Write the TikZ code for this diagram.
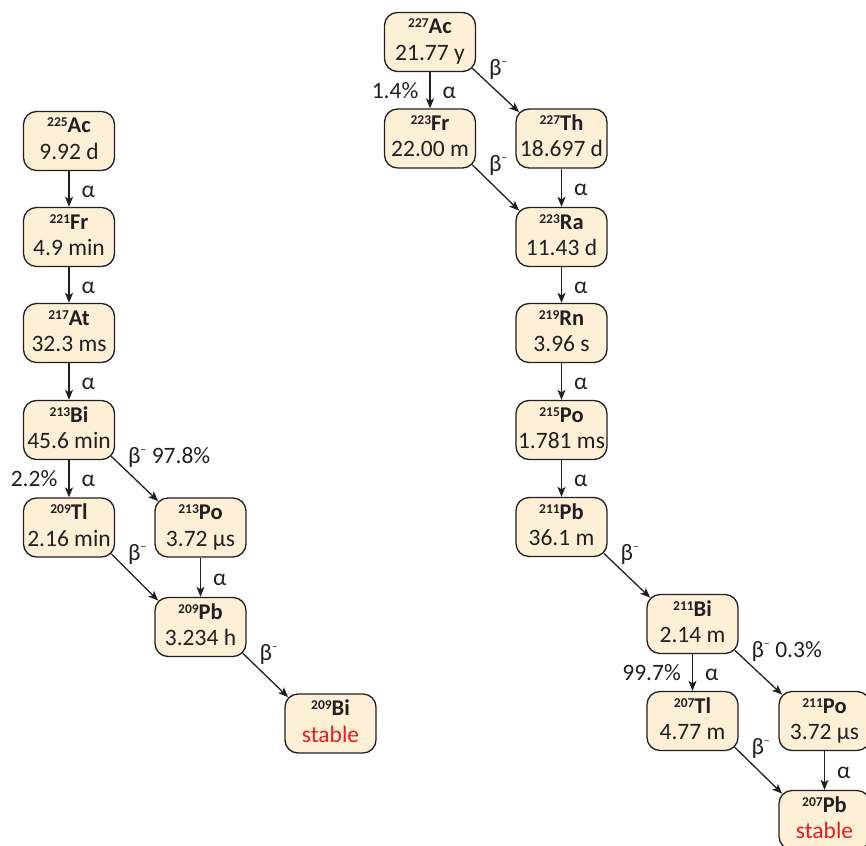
\documentclass[tikz,border=0pt]{standalone}
\usepackage{fontspec}
\setmainfont{Carlito}
\usetikzlibrary{arrows.meta,calc}

\definecolor{ink}{RGB}{35,31,32}
\definecolor{cream}{RGB}{253,240,214}
\definecolor{stablered}{RGB}{227,30,36}

% nuclide box text: mass number, symbol, half-life
\newcommand\iso[3]{%
  \rule{0pt}{17pt}{\fontsize{22.5}{26.5}\selectfont\bfseries
  \raisebox{6pt}{\fontsize{13.5}{13.5}\selectfont #1}#2}\\
  #3\rule[-6.5pt]{0pt}{6.5pt}}
% beta-minus symbol
\newcommand\betam{β\raisebox{10pt}{\fontsize{12}{12}\selectfont –}}

\tikzset{
  nuc/.style={draw=ink, line width=1.3pt, fill=cream, rounded corners=13pt,
    minimum width=91pt, minimum height=59pt, inner sep=0pt, align=center,
    text=ink, font=\fontsize{23.5}{26.5}\selectfont},
  decay/.style={draw=ink, line width=1.3pt,
    -{Stealth[length=10pt,width=8pt,inset=2.5pt]}},
  lab/.style={text=ink, inner sep=0pt, font=\fontsize{23.5}{26.5}\selectfont},
  alab/.style={lab, midway, anchor=base west, xshift=12pt, yshift=-8pt},
  plab/.style={lab, midway, anchor=base east, xshift=-11pt, yshift=-8pt},
  blab/.style={lab, pos=0, anchor=base west, xshift=16pt, yshift=-7pt},
}

\begin{document}
\begin{tikzpicture}[x=1pt,y=-1pt]
\path[use as bounding box, clip] (0,0) rectangle (866,845);

% Ac-225 chain
\node[nuc] (Ac225) at (69,141)      {\iso{225}{Ac}{9.92 d}};
\node[nuc] (Fr221) at (69,237)      {\iso{221}{Fr}{4.9 min}};
\node[nuc] (At217) at (69,333)      {\iso{217}{At}{32.3 ms}};
\node[nuc] (Bi213) at (69,430)      {\iso{213}{Bi}{45.6 min}};
\node[nuc] (Tl209) at (69,527.5)    {\iso{209}{Tl}{2.16 min}};
\node[nuc] (Po213) at (200.5,527.5) {\iso{213}{Po}{3.72 µs}};
\node[nuc] (Pb209) at (200.5,627)   {\iso{209}{Pb}{3.234 h}};
\node[nuc] (Bi209) at (330.5,723.5) {\iso{209}{Bi}{\textcolor{stablered}{stable}}};

% Ac-227 chain
\node[nuc] (Ac227) at (430,42)      {\iso{227}{Ac}{21.77 y}};
\node[nuc] (Fr223) at (430,138.5)   {\iso{223}{Fr}{22.00 m}};
\node[nuc] (Th227) at (561.5,138.5) {\iso{227}{Th}{18.697 d}};
\node[nuc] (Ra223) at (561.5,237)   {\iso{223}{Ra}{11.43 d}};
\node[nuc] (Rn219) at (561.5,333)   {\iso{219}{Rn}{3.96 s}};
\node[nuc] (Po215) at (561.5,430)   {\iso{215}{Po}{1.781 ms}};
\node[nuc] (Pb211) at (561.5,527)   {\iso{211}{Pb}{36.1 m}};
\node[nuc] (Bi211) at (692.5,624)   {\iso{211}{Bi}{2.14 m}};
\node[nuc] (Tl207) at (692.5,721)   {\iso{207}{Tl}{4.77 m}};
\node[nuc] (Po211) at (824.5,721)   {\iso{211}{Po}{3.72 µs}};
\node[nuc] (Pb207) at (824.5,820)   {\iso{207}{Pb}{\textcolor{stablered}{stable}}};

% decays, Ac-225 chain
\draw[decay] (Ac225) -- (Fr221) node[alab] {α};
\draw[decay] (Fr221) -- (At217) node[alab] {α};
\draw[decay] (At217) -- (Bi213) node[alab] {α};
\draw[decay] (Bi213) -- (Tl209) node[alab] {α} node[plab] {2.2\%};
\draw[decay] ($(Bi213.south east)+(-3.8,-3.8)$) -- ($(Po213.north west)+(3.8,3.8)$)
  node[blab] {\betam\ 97.8\%};
\draw[decay] ($(Tl209.south east)+(-3.8,-3.8)$) -- ($(Pb209.north west)+(3.8,3.8)$)
  node[blab] {\betam};
\draw[decay] (Po213) -- (Pb209) node[alab] {α};
\draw[decay] ($(Pb209.south east)+(-3.8,-3.8)$) -- ($(Bi209.north west)+(3.8,3.8)$)
  node[blab] {\betam};

% decays, Ac-227 chain
\draw[decay] (Ac227) -- (Fr223) node[alab] {α} node[plab] {1.4\%};
\draw[decay] ($(Ac227.south east)+(-3.8,-3.8)$) -- ($(Th227.north west)+(3.8,3.8)$)
  node[blab] {\betam};
\draw[decay] ($(Fr223.south east)+(-3.8,-3.8)$) -- ($(Ra223.north west)+(3.8,3.8)$)
  node[blab] {\betam};
\draw[decay] (Th227) -- (Ra223) node[alab] {α};
\draw[decay] (Ra223) -- (Rn219) node[alab] {α};
\draw[decay] (Rn219) -- (Po215) node[alab] {α};
\draw[decay] (Po215) -- (Pb211) node[alab] {α};
\draw[decay] ($(Pb211.south east)+(-3.8,-3.8)$) -- ($(Bi211.north west)+(3.8,3.8)$)
  node[blab] {\betam};
\draw[decay] (Bi211) -- (Tl207) node[alab] {α} node[plab] {99.7\%};
\draw[decay] ($(Bi211.south east)+(-3.8,-3.8)$) -- ($(Po211.north west)+(3.8,3.8)$)
  node[blab] {\betam\ 0.3\%};
\draw[decay] ($(Tl207.south east)+(-3.8,-3.8)$) -- ($(Pb207.north west)+(3.8,3.8)$)
  node[blab] {\betam};
\draw[decay] (Po211) -- (Pb207) node[alab] {α};
\end{tikzpicture}
\end{document}
